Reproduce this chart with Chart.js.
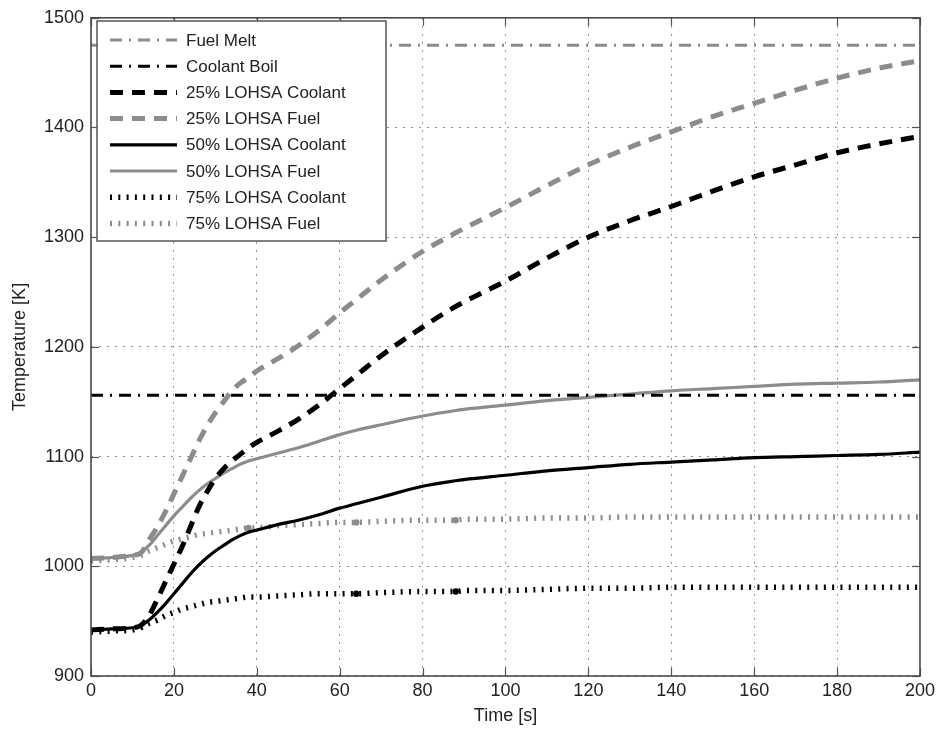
<!DOCTYPE html>
<html><head><meta charset="utf-8">
<script src="https://cdn.jsdelivr.net/npm/chart.js@4.4.0/dist/chart.umd.min.js"></script>
<style>html,body{margin:0;padding:0;background:#fff}canvas{display:block}</style>
</head><body>
<canvas id="c" width="939" height="730"></canvas>
<script>
// ---- data ----
const time = [0,5,10,12,14,16,18,20,22,24,26,28,30,32,34,36,38,40,45,50,55,60,64,70,80,88,90,100,110,120,130,140,150,160,170,180,190,200];
const fuelMelt = 1475;
const coolantBoil = 1156;
const coolant25 = [942,943,944,946,955,970,986,1002,1018,1036,1054,1068,1080,1089,1096,1102,1108,1113,1123,1134,1147,1162,1174,1192,1218,1237,1241,1260,1281,1300,1315,1328,1342,1355,1366,1377,1385,1392];
const fuel25 = [1007,1008,1010,1012,1024,1036,1050,1066,1082,1098,1114,1128,1140,1150,1160,1167,1172,1178,1189,1201,1215,1231,1243,1261,1287,1304,1308,1327,1347,1366,1382,1396,1410,1422,1434,1445,1454,1461];
const coolant50 = [942,943,944,946,951,958,966,975,984,993,1001,1008,1014,1019,1024,1028,1031,1033,1038,1042,1047,1053,1057,1063,1073,1078,1079,1083,1087,1090,1093,1095,1097,1099,1100,1101,1102,1104];
const fuel50 = [1007,1008,1010,1013,1019,1028,1037,1046,1054,1062,1069,1075,1080,1085,1089,1093,1096,1098,1103,1108,1114,1120,1124,1129,1137,1142,1143,1147,1151,1154,1157,1160,1162,1164,1166,1167,1168,1170];
const coolant75 = [940,941,942,944,948,951,955,958,961,963,965,967,968,969,970,971,972,972,973,974,975,975,975,976,977,977,978,978,979,980,980,981,981,981,981,981,981,981];
const fuel75 = [1005,1006,1008,1010,1014,1017,1020,1023,1025,1027,1029,1030,1031,1032,1033,1034,1035,1035,1037,1038,1039,1040,1040,1041,1042,1042,1043,1043,1044,1044,1045,1045,1045,1045,1045,1045,1045,1045];
const fuel75Marks = [38,64,88];
const coolant75Marks = [64,88];
const xTicks = [0,20,40,60,80,100,120,140,160,180,200];
const yTicks = [900,1000,1100,1200,1300,1400,1500];
const labels = ['Fuel Melt','Coolant Boil','25% LOHSA Coolant','25% LOHSA Fuel','50% LOHSA Coolant','50% LOHSA Fuel','75% LOHSA Coolant','75% LOHSA Fuel'];

// ---- styles ----
const BLACK = '#000000', GREY = '#8c8c8c';
const FONT = '"Liberation Sans", Arial, Helvetica, sans-serif';
const pts = arr => time.map((t,i)=>({x:t,y:arr[i]}));
const hline = v => [{x:0,y:v},{x:200,y:v}];
const marks = list => time.map(t => list.includes(t) ? 3.2 : 0);

const styles = [
  {color:GREY, width:3, dash:[12,7,2,7]},
  {color:BLACK, width:3, dash:[12,7,2,7]},
  {color:BLACK, width:5, dash:[13,9]},
  {color:GREY, width:5, dash:[13,9]},
  {color:BLACK, width:3.2, dash:[]},
  {color:GREY, width:3.2, dash:[]},
  {color:BLACK, width:5.5, dash:[2,6.3]},
  {color:GREY, width:5.5, dash:[2,6.3]},
];
const seriesData = [hline(fuelMelt), hline(coolantBoil), pts(coolant25), pts(fuel25), pts(coolant50), pts(fuel50), pts(coolant75), pts(fuel75)];
const radii = [0,0,0,0,0,0,marks(coolant75Marks),marks(fuel75Marks)];

const datasets = labels.map((lab,i)=>({
  label: lab,
  data: seriesData[i],
  borderColor: styles[i].color,
  backgroundColor: styles[i].color,
  borderWidth: styles[i].width,
  borderDash: styles[i].dash,
  borderCapStyle: 'butt',
  pointRadius: radii[i],
  pointBorderWidth: 0,
  pointBackgroundColor: styles[i].color,
  cubicInterpolationMode: 'monotone',
  fill: false
}));

const framePlugin = {
  id: 'frame',
  afterDatasetsDraw(chart){
    const {ctx, chartArea:{left,right,top,bottom}, scales:{x,y}} = chart;
    const line=(a,b,c,d)=>{ctx.beginPath();ctx.moveTo(a,b);ctx.lineTo(c,d);ctx.stroke();};
    ctx.save();
    ctx.setLineDash([]);
    ctx.strokeStyle='#555'; ctx.lineWidth=1.2;
    xTicks.forEach(v=>{const p=Math.round(x.getPixelForValue(v))+0.5; line(p,bottom,p,bottom-8); line(p,top,p,top+8);});
    yTicks.forEach(v=>{const p=Math.round(y.getPixelForValue(v))+0.5; line(left,p,left+8,p); line(right,p,right-8,p);});
    ctx.strokeStyle='#4a4a4a'; ctx.lineWidth=1.6;
    ctx.strokeRect(left,top,right-left,bottom-top);
    // legend
    const lx=97, ly=21, lw=289, lh=220;
    ctx.fillStyle='#fff'; ctx.fillRect(lx,ly,lw,lh);
    ctx.strokeStyle='#555'; ctx.lineWidth=1.5; ctx.strokeRect(lx,ly,lw,lh);
    ctx.font='17px '+FONT; ctx.textBaseline='middle'; ctx.textAlign='left';
    chart.data.datasets.forEach((ds,i)=>{
      const cy = 40 + i*26.2;
      ctx.save();
      ctx.strokeStyle=ds.borderColor; ctx.lineWidth=ds.borderWidth; ctx.lineCap='butt';
      ctx.setLineDash(ds.borderDash||[]);
      line(110,cy,177,cy);
      ctx.restore();
      ctx.fillStyle='#222';
      ctx.fillText(ds.label,186,cy+1);
    });
    ctx.restore();
  }
};

new Chart(document.getElementById('c'), {
  type: 'line',
  data: { datasets },
  options: {
    responsive: false,
    animation: false,
    layout: { padding: {top:16, right:18, left:0, bottom:0} },
    plugins: { legend:{display:false}, tooltip:{enabled:false} },
    scales: {
      x: {
        type:'linear', min:0, max:200,
        afterFit(s){ s.height = 54; },
        afterBuildTicks(s){ s.ticks = xTicks.map(v=>({value:v})); },
        ticks:{ font:{family:FONT,size:18}, color:'#222', padding:4, maxRotation:0, autoSkip:false, callback:v=>String(v) },
        grid:{ color:'#8f8f8f', lineWidth:1, drawTicks:false },
        border:{ display:false, dash:[2,6] },
        title:{ display:true, text:'Time [s]', font:{family:FONT,size:18}, color:'#222', padding:{top:0,bottom:3} }
      },
      y: {
        type:'linear', min:900, max:1500,
        afterFit(s){ s.width = 91; },
        afterBuildTicks(s){ s.ticks = yTicks.map(v=>({value:v})); },
        ticks:{ font:{family:FONT,size:18}, color:'#222', padding:7, autoSkip:false, callback:v=>String(v) },
        grid:{ color:'#8f8f8f', lineWidth:1, drawTicks:false },
        border:{ display:false, dash:[2,6] },
        title:{ display:true, text:'Temperature [K]', font:{family:FONT,size:18}, color:'#222', padding:{top:9,bottom:0} }
      }
    }
  },
  plugins: [framePlugin]
});
</script>
</body></html>
